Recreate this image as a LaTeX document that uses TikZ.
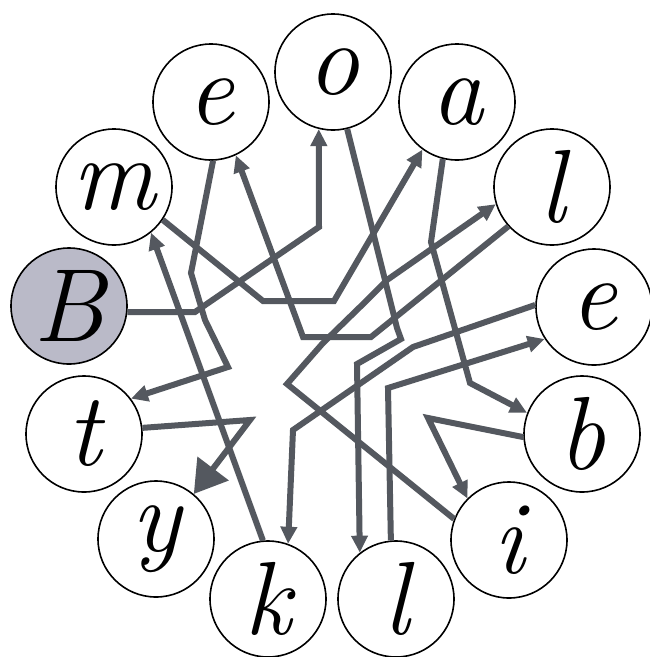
\documentclass[tikz,border=0pt]{standalone}
\usepackage{fontspec}
\usetikzlibrary{arrows.meta}
\definecolor{lineg}{RGB}{84,88,95}
\definecolor{bfill}{RGB}{186,186,200}
\begin{document}
\begin{tikzpicture}[x=1pt,y=-1pt,
  letter/.style={circle, draw=black, line width=1.6pt, fill=white, minimum size=116pt, inner sep=0pt,
    font=\fontsize{104}{104}\selectfont\itshape},
  mazeline/.style={draw=lineg, line width=6pt, line join=miter, -{Triangle[length=17pt,width=16pt]}},
  bigtip/.style={-{Triangle[length=32pt,width=38pt]}}]
\fill[white] (0,0) rectangle (650,657);
\useasboundingbox (0,0) rectangle (650,657);
% circles
\node[letter, fill=bfill] (B) at (69,306) {B};
\node[letter] (m) at (114,187) {m};
\node[letter] (e1) at (211,102) {e};
\node[letter] (o) at (333,72) {o};
\node[letter] (a) at (457,102) {a};
\node[letter] (l1) at (552,187) {l};
\node[letter] (e2) at (594,307) {e};
\node[letter] (b) at (582,434) {b};
\node[letter] (i) at (509,540) {i};
\node[letter] (l2) at (396,599) {l};
\node[letter] (k) at (268,599) {k};
\node[letter] (y) at (156,539) {y};
\node[letter] (t) at (84,434) {t};
% maze lines: B o l e k m a b i l e t y
\draw[mazeline] (B.-6) -- (195,312) -- (319,227) -- (o.-104);
\draw[mazeline] (o.-76) -- (397,328) -- (401,339) -- (357,364) -- (l2.128);
\draw[mazeline] (l2.95) -- (388,388) -- (e2.-147);
\draw[mazeline] (e2.178) -- (413,347) -- (293,430) -- (k.70);
\draw[mazeline] (k.95) -- (m.-51);
\draw[mazeline] (m.-34) -- (263,301) -- (334,301) -- (a.-126);
\draw[mazeline] (a.-104) -- (431,242) -- (470,383) -- (b.159);
\draw[mazeline] (b.183) -- (428,418) -- (i.135);
\draw[mazeline] (i.159) -- (287,384) -- (323,343) -- (360,307) -- (387,280) -- (l1.-163);
\draw[mazeline] (l1.-138) -- (371,337) -- (303,337) -- (e1.-65);
\draw[mazeline] (e1.-88) -- (191,273) -- (205,320) -- (228,367) -- (t.37);
\draw[mazeline, bigtip] (t.6) -- (250,420) -- (y.50);
\end{tikzpicture}
\end{document}
